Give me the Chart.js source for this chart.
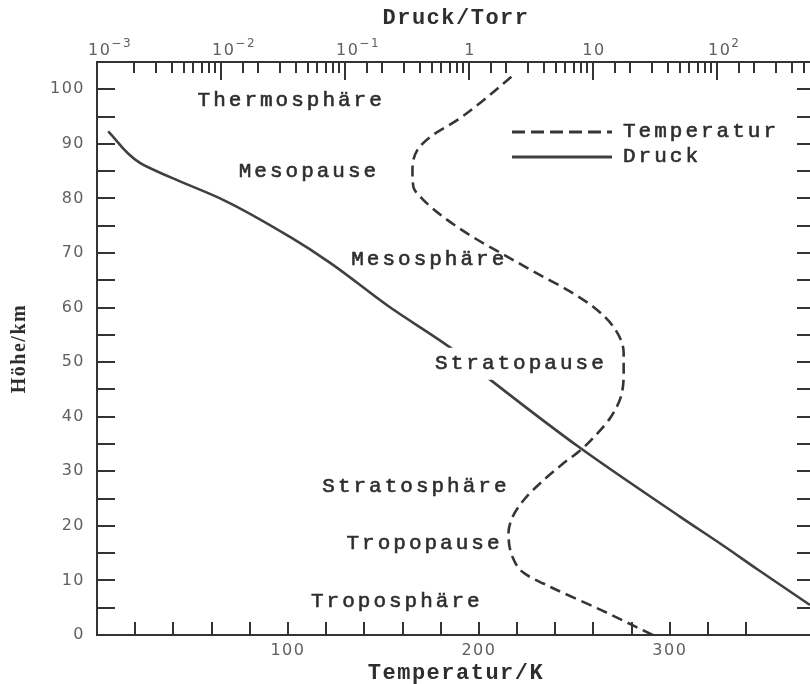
<!DOCTYPE html>
<html>
<head>
<meta charset="utf-8">
<script src="https://cdn.jsdelivr.net/npm/chart.js@4.4.1/dist/chart.umd.min.js"></script>
<style>
  html, body { margin: 0; padding: 0; background: #fff; overflow: hidden; width: 810px; height: 684px; }
  #wrap { position: absolute; left: 0; top: 0; width: 830px; height: 684px; }
</style>
</head>
<body>
<div id="wrap"><canvas id="c" width="830" height="684"></canvas></div>
<script>
// ---- data ----
const tempAltitudeKm = [0, 4.6, 8.8, 11.4, 14.3, 18.7, 21.6, 24.7, 28.4, 31.5, 33.9, 37.0, 39.9, 43.6, 48.0, 51.7, 56.4, 60.1, 63.2, 66.3, 69.3, 72.9, 76.6, 79.7, 82.1, 85.2, 88.9, 91.3, 94.4, 98.0, 102.6];
const temperatureK   = [291, 263.8, 237.5, 223.4, 217.6, 215.5, 217.6, 223.4, 233.9, 244.4, 253.3, 262.2, 269, 274.3, 275.8, 275.8, 270.6, 260, 246.5, 230.2, 215, 197, 181.4, 171, 165.7, 165.2, 167.8, 174.6, 188.8, 202.4, 218];

const pressAltitudeKm = [5.5, 12.1, 16.4, 21.7, 34.3, 46.8, 52.7, 60.1, 68.2, 72.9, 79.7, 83.9, 86.5, 92.3];
const pressureTorr    = [562, 210, 112, 50.2, 7.85, 1.48, 0.703, 0.229, 0.0759, 0.0363, 0.0105, 0.00389, 0.00222, 0.00123];

// tick labels
const altitudeLabelValues    = [0, 10, 20, 30, 40, 50, 60, 70, 80, 90, 100];
const temperatureLabelValues = [100, 200, 300];
const pressureDecades        = [0.001, 0.01, 0.1, 1, 10, 100];
const pressureDecadeBase     = ['10', '10', '10', '1', '10', '10'];
const pressureDecadeExp      = ['\u22123', '\u22122', '\u22121', '', '', '2'];

// region annotations (anchored in data units: temperature K, altitude km)
const regionNames  = ['Thermosph\u00e4re', 'Mesopause', 'Mesosph\u00e4re', 'Stratopause', 'Stratosph\u00e4re', 'Tropopause', 'Troposph\u00e4re'];
const regionTempK  = [101.7, 111, 174, 222, 167, 171.5, 157];
const regionAltKm  = [97.9, 85.0, 68.9, 49.7, 27.3, 16.7, 6.2];

const seriesNames = ['Temperatur', 'Druck'];

// ---- styles ----
const MONO = '"Liberation Mono", "Courier New", monospace';
const SANS = '"DejaVu Sans", sans-serif';
const SERIF = '"Liberation Serif", "Times New Roman", serif';
const INK = '#333333';
const TEXT_INK = '#2e2e2e';
const TICK_INK = '#606060';
const labelMask = { 'Stratopause': [3, 16] };

const inwardTicks = {
  id: 'inwardTicks',
  afterDraw(chart) {
    const { ctx, chartArea: a } = chart;
    const s = chart.scales;
    ctx.save();
    ctx.strokeStyle = INK;
    ctx.lineWidth = 2;
    ctx.setLineDash([]);
    ctx.beginPath();
    s.xT.ticks.forEach(t => {
      if (t.value <= s.xT.min || t.value >= s.xT.max) return;
      const x = Math.round(s.xT.getPixelForValue(t.value));
      ctx.moveTo(x, a.bottom); ctx.lineTo(x, a.bottom - 13);
    });
    s.xP.ticks.forEach(t => {
      if (t.value <= s.xP.min * 1.0001 || t.value >= s.xP.max * 0.9999) return;
      const lg = Math.log10(t.value);
      const major = Math.abs(lg - Math.round(lg)) < 1e-6;
      const x = Math.round(s.xP.getPixelForValue(t.value));
      ctx.moveTo(x, a.top); ctx.lineTo(x, a.top + (major ? 18 : 11));
    });
    s.y.ticks.forEach(t => {
      if (t.value <= s.y.min || t.value >= s.y.max) return;
      const y = Math.round(s.y.getPixelForValue(t.value));
      ctx.moveTo(a.left, y); ctx.lineTo(a.left + 18, y);
    });
    s.yR.ticks.forEach(t => {
      if (t.value <= s.yR.min || t.value >= s.yR.max) return;
      const y = Math.round(s.yR.getPixelForValue(t.value));
      ctx.moveTo(a.right, y); ctx.lineTo(a.right - 18, y);
    });
    ctx.stroke();

    // pressure decade labels with superscript exponents
    const xP = s.xP;
    ctx.fillStyle = TICK_INK;
    ctx.textBaseline = 'alphabetic';
    ctx.letterSpacing = '1.5px';
    pressureDecades.forEach((d, i) => {
      const x = xP.getPixelForValue(d);
      const base = pressureDecadeBase[i], exp = pressureDecadeExp[i];
      ctx.font = '16px ' + SANS;
      const wb = ctx.measureText(base).width;
      const yb = a.top - 7;
      if (!exp) {
        ctx.textAlign = 'center';
        ctx.fillText(base, x + 1, yb);
        return;
      }
      ctx.textAlign = 'left';
      const x0 = x - 9;
      ctx.fillText(base, x0, yb);
      ctx.font = '12px ' + SANS;
      ctx.fillText(exp, x0 + wb, yb - 8);
    });
    ctx.restore();
  }
};

const spacing = {
  id: 'spacing',
  beforeDraw(chart) { chart.ctx.letterSpacing = '1.5px'; }
};

function heavyText(ctx, text, x, y) {
  ctx.fillText(text, x, y);
  ctx.strokeText(text, x, y);
}

const annotations = {
  id: 'annotations',
  afterDatasetsDraw(chart) {
    const { ctx, chartArea: a } = chart;
    const xs = chart.scales.xT, ys = chart.scales.y;
    ctx.save();
    ctx.font = '21px ' + MONO;
    ctx.letterSpacing = '3px';
    ctx.textBaseline = 'middle';
    ctx.textAlign = 'center';
    ctx.lineWidth = 0.6;
    ctx.strokeStyle = TEXT_INK;
    regionNames.forEach((name, i) => {
      const x = xs.getPixelForValue(regionTempK[i]);
      const y = ys.getPixelForValue(regionAltKm[i]);
      const w = ctx.measureText(name).width;
      const m = labelMask[name];
      if (m) { ctx.fillStyle = '#fff'; ctx.fillRect(x - w / 2 - m[0], y - m[1], w + 2 * m[0], 2 * m[1]); }
      ctx.fillStyle = TEXT_INK;
      heavyText(ctx, name, x, y);
    });
    // legend
    const lx0 = a.left + 415, lx1 = lx0 + 100;
    const rows = [a.top + 70, a.top + 95];
    chart.data.datasets.forEach((ds, i) => {
      ctx.strokeStyle = ds.borderColor;
      ctx.lineWidth = 3;
      ctx.setLineDash(i === 0 ? [13, 6] : []);
      ctx.beginPath();
      ctx.moveTo(lx0, rows[i]); ctx.lineTo(lx1, rows[i]);
      ctx.stroke();
      ctx.setLineDash([]);
      ctx.fillStyle = TEXT_INK;
      ctx.strokeStyle = TEXT_INK;
      ctx.lineWidth = 0.6;
      ctx.textAlign = 'left';
      heavyText(ctx, ds.label, lx1 + 11, rows[i] - 1);
    });
    ctx.restore();
  }
};

const tempPoints = tempAltitudeKm.map((h, i) => ({ x: temperatureK[i], y: h }));
const pressPoints = pressAltitudeKm.map((h, i) => ({ x: pressureTorr[i], y: h }));

new Chart(document.getElementById('c'), {
  type: 'line',
  data: {
    datasets: [
      { label: seriesNames[0], data: tempPoints, xAxisID: 'xT', yAxisID: 'y', indexAxis: 'y',
        borderColor: '#363636', borderWidth: 2.6, borderDash: [11, 6], pointRadius: 0,
        cubicInterpolationMode: 'monotone', fill: false },
      { label: seriesNames[1], data: pressPoints, xAxisID: 'xP', yAxisID: 'y', indexAxis: 'y',
        borderColor: '#404040', borderWidth: 2.6, pointRadius: 0,
        cubicInterpolationMode: 'monotone', fill: false }
    ]
  },
  options: {
    responsive: false,
    animation: false,
    layout: { padding: 0 },
    plugins: { legend: { display: false }, tooltip: { enabled: false } },
    scales: {
      xT: {
        type: 'linear', position: 'bottom', min: 0, max: 376,
        afterFit(s) { s.height = 49; },
        grid: { display: false, drawTicks: false },
        border: { display: true, color: INK, width: 2 },
        ticks: { stepSize: 20, autoSkip: false, maxRotation: 0, padding: 6, color: TICK_INK,
                 font: { family: SANS, size: 16 },
                 callback: v => temperatureLabelValues.includes(v) ? String(v) : '' },
        title: { display: true, text: 'Temperatur/K', color: TEXT_INK,
                 font: { family: MONO, size: 22, weight: 'bold', lineHeight: 1 }, padding: { top: 0, bottom: 0 } }
      },
      xP: {
        type: 'logarithmic', position: 'top', min: 0.001, max: 617,
        afterFit(s) { s.height = 62; },
        grid: { display: false, drawTicks: false },
        border: { display: true, color: INK, width: 2 },
        ticks: { display: false, autoSkip: false },
        title: { display: true, text: 'Druck/Torr', color: TEXT_INK,
                 font: { family: MONO, size: 22, weight: 'bold', lineHeight: 1 }, padding: { top: 7, bottom: 0 } }
      },
      y: {
        type: 'linear', position: 'left', min: 0, max: 105,
        afterFit(s) { s.width = 97; },
        grid: { display: false, drawTicks: false },
        border: { display: true, color: INK, width: 2 },
        ticks: { stepSize: 5, autoSkip: false, padding: 12, color: TICK_INK,
                 font: { family: SANS, size: 16 },
                 callback: v => altitudeLabelValues.includes(v) ? String(v) : '' },
        title: { display: true, text: 'H\u00f6he/km', color: TEXT_INK,
                 font: { family: SERIF, size: 20, weight: 'bold', lineHeight: 1 }, padding: { top: 10, bottom: 0 } }
      },
      yR: {
        type: 'linear', position: 'right', min: 0, max: 105,
        afterFit(s) { s.width = 15; },
        grid: { display: false, drawTicks: false },
        border: { display: true, color: INK, width: 2 },
        ticks: { display: false, stepSize: 5 }
      }
    }
  },
  plugins: [spacing, inwardTicks, annotations]
});
</script>
</body>
</html>
